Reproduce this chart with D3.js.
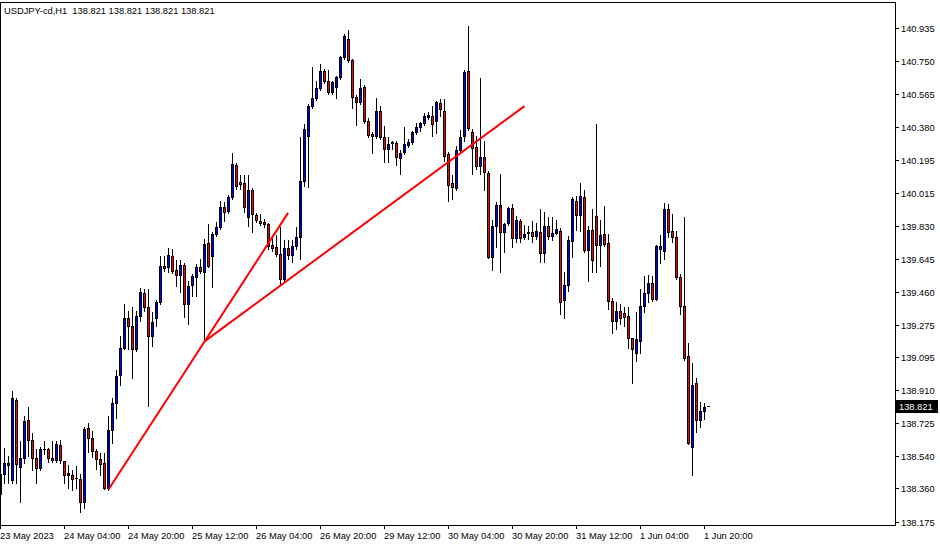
<!DOCTYPE html>
<html><head><meta charset="utf-8">
<script src="https://cdn.jsdelivr.net/npm/d3@7"></script>
<style>
html,body{margin:0;padding:0;background:#fff;}
svg{display:block;}
text{font-family:"Liberation Sans",Arial,sans-serif;font-size:9.3px;fill:#000;white-space:pre;}
</style></head><body>
<svg id="c" width="940" height="546"></svg>
<script>
const headerText = "USDJPY-cd,H1  138.821 138.821 138.821 138.821";
const timeLabels = ["23 May 2023","24 May 04:00","24 May 20:00","25 May 12:00","26 May 04:00","26 May 20:00","29 May 12:00","30 May 04:00","30 May 20:00","31 May 12:00","1 Jun 04:00","1 Jun 20:00"];
const labelEvery = 16;
const priceTicks = [140.935,140.750,140.565,140.380,140.195,140.015,139.830,139.645,139.460,139.275,139.095,138.910,138.725,138.540,138.360,138.175];
const lastPrice = 138.821;

const opens = [138.331,138.443,138.493,138.409,138.857,138.482,138.532,138.745,138.633,138.532,
138.476,138.580,138.583,138.532,138.521,138.605,138.515,138.448,138.437,138.420,
138.415,138.286,138.700,138.644,138.571,138.527,138.504,138.364,138.689,138.835,
138.997,139.148,139.311,139.271,139.137,139.327,139.451,139.372,139.215,139.311,
139.400,139.602,139.596,139.658,139.579,139.551,139.607,139.389,139.495,139.540,
139.596,139.568,139.731,139.658,139.781,139.820,139.932,139.910,139.988,140.167,
140.072,140.067,139.876,140.027,139.887,139.854,139.848,139.837,139.719,139.708,
139.669,139.529,139.703,139.663,139.714,139.764,140.078,140.330,140.498,140.543,
140.599,140.694,140.638,140.576,140.604,140.660,140.772,140.873,140.755,140.548,
140.520,140.604,140.414,140.341,140.330,140.470,140.324,140.257,140.296,140.291,
140.207,140.240,140.279,140.296,140.352,140.380,140.403,140.436,140.442,140.414,
140.515,140.470,140.229,140.067,140.039,140.251,140.330,140.694,140.352,140.268,
140.162,140.212,140.123,139.652,139.826,139.943,139.792,139.843,139.927,139.759,
139.854,139.764,139.792,139.792,139.770,139.792,139.675,139.826,139.770,139.787,
139.798,139.411,139.495,139.742,139.966,139.887,139.988,139.691,139.803,139.882,
139.719,139.781,139.731,139.406,139.294,139.350,139.339,139.322,139.199,139.120,
139.182,139.383,139.451,139.507,139.417,139.697,139.686,139.921,139.798,139.764,
139.540,139.383,139.098,138.594,138.947,138.745,138.795,138.821];

const highs = [138.487,138.588,138.543,138.907,138.868,138.627,138.767,138.818,138.672,138.583,
138.594,138.627,138.588,138.627,138.627,138.633,138.515,138.493,138.465,138.487,
138.443,138.706,138.728,138.683,138.583,138.560,138.560,138.767,138.868,139.025,
139.215,139.389,139.350,139.372,139.350,139.479,139.473,139.473,139.344,139.411,
139.658,139.658,139.703,139.697,139.635,139.635,139.619,139.518,139.557,139.613,
139.641,139.753,139.837,139.792,139.848,139.966,139.960,139.999,140.235,140.178,
140.111,140.111,140.111,140.039,139.899,139.893,139.865,139.843,139.770,139.775,
139.820,139.747,139.747,139.747,139.820,140.324,140.397,140.509,140.716,140.638,
140.733,140.705,140.699,140.638,140.666,140.778,140.901,140.923,140.761,140.559,
140.649,140.615,140.431,140.352,140.543,140.498,140.386,140.324,140.302,140.302,
140.251,140.380,140.313,140.358,140.403,140.408,140.459,140.464,140.498,140.526,
140.537,140.537,140.240,140.111,140.274,140.363,140.699,140.946,140.369,140.330,
140.655,140.302,140.134,139.859,139.960,140.117,139.843,139.932,139.949,139.882,
139.865,139.831,139.826,139.854,139.843,139.921,139.904,139.876,139.876,139.859,
139.815,139.568,139.770,139.988,139.994,140.067,140.027,139.826,139.921,140.397,
139.859,139.938,139.781,139.423,139.400,139.389,139.372,139.372,139.204,139.344,
139.473,139.546,139.551,139.546,139.719,139.775,139.955,139.949,139.897,139.798,
139.557,139.876,139.176,139.064,138.975,138.846,138.835,138.821];

const lows = [138.252,138.392,138.392,138.392,138.392,138.286,138.504,138.543,138.465,138.392,
138.465,138.555,138.510,138.510,138.510,138.504,138.392,138.364,138.353,138.364,
138.230,138.252,138.566,138.538,138.471,138.437,138.359,138.353,138.616,138.756,
138.941,139.137,139.137,138.975,139.126,139.294,139.350,138.823,139.154,139.266,
139.389,139.574,139.568,139.563,139.490,139.456,139.316,139.277,139.434,139.434,
139.563,139.193,139.596,139.484,139.770,139.809,139.854,139.899,139.977,140.033,
140.033,139.904,139.826,139.792,139.848,139.831,139.820,139.697,139.686,139.658,
139.495,139.512,139.641,139.624,139.697,139.641,140.050,140.044,140.487,140.531,
140.587,140.627,140.565,140.565,140.543,140.649,140.761,140.744,140.487,140.391,
140.509,140.403,140.324,140.235,140.319,140.313,140.184,140.184,140.257,140.167,
140.117,140.229,140.268,140.285,140.341,140.358,140.391,140.425,140.330,140.347,
140.442,140.190,139.966,139.977,140.027,140.240,140.302,140.363,140.117,140.145,
140.117,140.027,139.647,139.579,139.708,139.568,139.680,139.831,139.708,139.736,
139.736,139.753,139.753,139.736,139.753,139.624,139.624,139.753,139.747,139.781,
139.333,139.311,139.462,139.652,139.803,139.798,139.680,139.518,139.568,139.568,
139.602,139.714,139.361,139.232,139.249,139.277,139.266,139.143,138.952,139.075,
139.120,139.344,139.400,139.406,139.411,139.619,139.641,139.764,139.736,139.529,
139.333,139.081,138.610,138.437,138.678,138.706,138.751,138.821];

const closes = [138.443,138.504,138.504,138.863,138.499,138.532,138.739,138.633,138.532,138.476,
138.583,138.583,138.532,138.521,138.611,138.521,138.437,138.437,138.415,138.417,
138.286,138.695,138.644,138.571,138.527,138.499,138.364,138.689,138.840,138.991,
139.148,139.311,139.266,139.137,139.327,139.456,139.372,139.215,139.288,139.400,
139.602,139.591,139.663,139.574,139.551,139.607,139.389,139.490,139.546,139.596,
139.574,139.725,139.602,139.781,139.820,139.932,139.904,139.988,140.173,140.050,
140.061,139.932,140.027,139.893,139.859,139.843,139.837,139.714,139.703,139.669,
139.529,139.703,139.663,139.714,139.764,140.078,140.369,140.498,140.543,140.599,
140.694,140.638,140.576,140.632,140.660,140.772,140.890,140.755,140.548,140.520,
140.599,140.414,140.335,140.333,140.470,140.324,140.257,140.285,140.293,140.212,
140.235,140.285,140.296,140.352,140.380,140.403,140.442,140.447,140.397,140.520,
140.481,140.218,140.055,140.044,140.251,140.324,140.688,140.375,140.263,140.162,
140.212,140.128,139.652,139.826,139.943,139.792,139.837,139.927,139.759,139.859,
139.759,139.781,139.789,139.770,139.798,139.675,139.826,139.770,139.787,139.809,
139.400,139.495,139.747,139.977,139.887,139.994,139.691,139.803,139.635,139.719,
139.775,139.725,139.406,139.294,139.350,139.311,139.316,139.199,139.137,139.193,
139.383,139.451,139.507,139.417,139.714,139.714,139.921,139.792,139.764,139.540,
139.383,139.092,138.616,138.941,138.745,138.795,138.818,138.821];

// trend lines: [startBar, startPrice, endBar, endPrice]
const trendLine1 = [27, 138.354, 71.9, 139.901];
const trendLine2 = [51.1, 139.184, 131.0, 140.498];

const W = 940, H = 546;
const plotLeft = 0, plotRight = 895, plotTop = 2, plotBottom = 525;
const svg = d3.select("#c");
svg.append("rect").attr("width",W).attr("height",H).attr("fill","#fff");

const n = opens.length;
const x = d3.scaleLinear().domain([0, n - 1]).range([0.5, 0.5 + 4 * (n - 1)]);
const y = d3.scaleLinear().domain([138.175, 140.935]).range([521.5, 28]);

svg.append("clipPath").attr("id","pc").append("rect")
  .attr("x",plotLeft).attr("y",plotTop).attr("width",plotRight-plotLeft).attr("height",plotBottom-plotTop);

const g = svg.append("g").attr("clip-path","url(#pc)");

const data = d3.range(n).map(i => ({i, o: opens[i], h: highs[i], l: lows[i], c: closes[i]}));

// wicks
g.selectAll("line.wick").data(data).join("line")
  .attr("class","wick")
  .attr("x1", d => x(d.i)).attr("x2", d => x(d.i))
  .attr("y1", d => Math.round(y(d.h))).attr("y2", d => Math.round(y(d.l)) + 1)
  .attr("stroke","#000").attr("stroke-width",1).attr("shape-rendering","crispEdges");

// bodies
data.forEach(d => {
  const yo = Math.round(y(d.o)), yc = Math.round(y(d.c));
  const top = Math.min(yo, yc), bot = Math.max(yo, yc);
  const cx = x(d.i);
  const left = Math.round(cx - 1.5);
  if (bot - top < 1) {
    g.append("rect").attr("x", left).attr("y", top).attr("width", 3).attr("height", 1)
      .attr("fill", "#000").attr("shape-rendering","crispEdges");
  } else {
    g.append("rect").attr("x", left).attr("y", top).attr("width", 3).attr("height", bot - top + 1)
      .attr("fill", "#000").attr("shape-rendering","crispEdges");
    if (bot - top - 1 > 0) {
      g.append("rect").attr("x", left + 1).attr("y", top + 1).attr("width", 1).attr("height", bot - top - 1)
        .attr("fill", d.c >= d.o ? "#0000ff" : "#ff0000").attr("shape-rendering","crispEdges");
    }
  }
});

// trend lines
[trendLine1, trendLine2].forEach(t => {
  g.append("line")
    .attr("x1", x(t[0])).attr("y1", y(t[1]))
    .attr("x2", x(t[2])).attr("y2", y(t[3]))
    .attr("stroke", "#ff0000").attr("stroke-width", 2);
});

// frame
svg.append("rect").attr("x", plotLeft + 0.5).attr("y", plotTop + 0.5)
  .attr("width", plotRight - plotLeft - 0.5).attr("height", plotBottom - plotTop)
  .attr("fill","none").attr("stroke","#000").attr("stroke-width",1).attr("shape-rendering","crispEdges");

// right price axis
const ya = svg.append("g");
priceTicks.forEach(p => {
  const yy = Math.round(y(p)) + 0.5;
  ya.append("line").attr("x1", plotRight).attr("x2", plotRight + 4).attr("y1", yy).attr("y2", yy)
    .attr("stroke","#000").attr("shape-rendering","crispEdges");
  ya.append("text").attr("x", 901).attr("y", yy + 3.5).text(p.toFixed(3));
});

// last price box
const ly = Math.round(y(lastPrice));
svg.append("rect").attr("x", 896).attr("y", ly - 6).attr("width", 42).attr("height", 13).attr("fill","#000");
svg.append("text").attr("x", 899).attr("y", ly + 4).style("fill","#fff").text(lastPrice.toFixed(3));

// time axis
const xa = svg.append("g");
timeLabels.forEach((lab, k) => {
  const xx = Math.round(x(k * labelEvery) - 0.5) + 0.5;
  xa.append("line").attr("x1", xx).attr("x2", xx).attr("y1", plotBottom).attr("y2", plotBottom + 4)
    .attr("stroke","#000").attr("shape-rendering","crispEdges");
  xa.append("text").attr("x", xx - 0.5).attr("y", 538.5).text(lab);
});

// header
svg.append("text").attr("x", 4).attr("y", 13.5).attr("xml:space","preserve").text(headerText);
</script>
</body></html>
